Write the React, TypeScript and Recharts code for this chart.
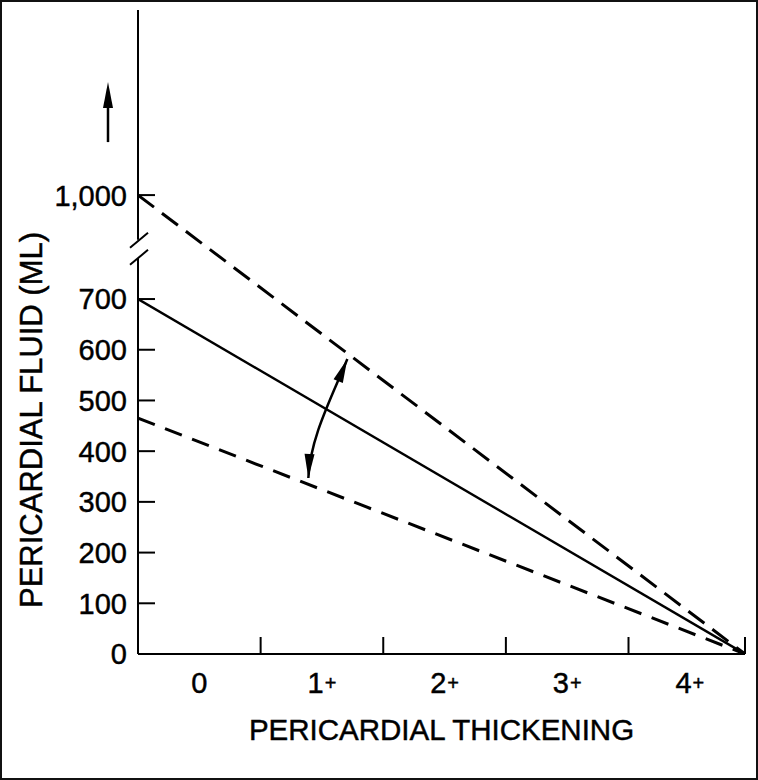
import React from 'react';
import { LineChart, Line, XAxis, YAxis, ReferenceLine, ReferenceDot } from 'recharts';

// ---- data ----
const xCategories = ['0', '1+', '2+', '3+', '4+'];
const xCategoryPositions = [0, 1, 2, 3, 4];
const xBoundaryTicks = [0.5, 1.5, 2.5, 3.5, 4.45];
const lineX = [-0.5, 4.45];
const upperDashed = [1000, 0];
const solidMid = [700, 0];
const lowerDashed = [465, 0];
const yTickValues = [0, 100, 200, 300, 400, 500, 600, 700, 1000];
const yTickLabels = ['0', '100', '200', '300', '400', '500', '600', '700', '1,000'];

// broken y axis: values above the break are shifted down
const BREAK_AT = 800;
const BREAK_SHIFT = 95;
const brk = (v: number) => (v <= BREAK_AT ? v : v - BREAK_SHIFT);
const GAP_LOW = 781;
const GAP_HIGH = 817;
const Y_TOP = 1270;

const chartData = lineX.map((x, i) => ({
  x,
  upper: brk(upperDashed[i]),
  mid: brk(solidMid[i]),
  lower: brk(lowerDashed[i]),
}));

const FONT = '"Liberation Sans", Arial, Helvetica, sans-serif';
const TXT = { fontFamily: FONT, fill: '#000', stroke: '#000', strokeWidth: 0.45 };

const XTick = (props: any) => {
  const { x, y, payload } = props;
  const v = payload.value;
  const idx = xCategoryPositions.indexOf(v);
  if (idx >= 0) {
    const lab = xCategories[idx];
    const digit = lab.replace('+', '');
    const plus = lab.includes('+');
    return (
      <text x={x} y={y + 39} textAnchor="middle" fontSize={29} {...TXT}>
        {digit}
        {plus && (
          <tspan fontSize={20} dx={1} dy={-3}>
            +
          </tspan>
        )}
      </text>
    );
  }
  return <line x1={x} x2={x} y1={y} y2={y - 17} stroke="#000" strokeWidth={2} />;
};

const brkTicks = yTickValues.map(brk);

const YTick = (props: any) => {
  const { x, y, payload } = props;
  const i = brkTicks.indexOf(payload.value);
  return (
    <g>
      <line x1={x} x2={x + 17} y1={y} y2={y} stroke="#000" strokeWidth={2} />
      <text x={x - 11} y={y} dy="0.36em" textAnchor="end" fontSize={29} {...TXT}>
        {yTickLabels[i]}
      </text>
    </g>
  );
};

const YTitle = (props: any) => {
  const vb = props.viewBox || { x: 0, y: 10 };
  const cx = vb.x + 42;
  const cy = vb.y + 410;
  return (
    <text x={cx} y={cy} transform={`rotate(-90 ${cx} ${cy})`} textAnchor="middle" fontSize={31} {...TXT}>
      PERICARDIAL FLUID (ML)
    </text>
  );
};

const XTitle = (props: any) => {
  const vb = props.viewBox || { x: 138, y: 654, width: 607 };
  return (
    <text x={vb.x + vb.width / 2} y={vb.y + 86} textAnchor="middle" fontSize={29.5} {...TXT}>
      PERICARDIAL THICKENING
    </text>
  );
};

const head = (tx: number, ty: number, dx: number, dy: number, len = 24, hw = 5) => {
  const l = Math.hypot(dx, dy);
  const ux = dx / l;
  const uy = dy / l;
  const bx = tx - len * ux;
  const by = ty - len * uy;
  const nx = -uy;
  const ny = ux;
  return `M${tx},${ty} L${bx + hw * nx},${by + hw * ny} L${bx - hw * nx},${by - hw * ny} Z`;
};

const BreakMarks = (props: any) => {
  const { cx, cy } = props;
  return (
    <g>
      <line x1={cx - 8} y1={cy - 1} x2={cx + 10} y2={cy - 16} stroke="#000" strokeWidth={2} />
      <line x1={cx - 8} y1={cy + 16} x2={cx + 10} y2={cy + 1} stroke="#000" strokeWidth={2} />
    </g>
  );
};

const UpArrow = (props: any) => {
  const { cx, cy } = props;
  const x = cx - 30;
  return (
    <g>
      <line x1={x} x2={x} y1={cy - 53} y2={cy - 100} stroke="#000" strokeWidth={2.5} />
      <path d={head(x, cy - 113, 0, -1, 26, 5)} fill="#000" />
    </g>
  );
};

const CurvedArrow = (props: any) => {
  const { cx, cy } = props;
  const p0 = [cx + 25.4, cy - 41.5];
  const p1 = [cx + 8.3, cy - 0.1];
  const p2 = [cx - 11.6, cy + 37.5];
  const p3 = [cx - 13.6, cy + 77.5];
  return (
    <g>
      <path
        d={`M${p0[0]},${p0[1]} C${p1[0]},${p1[1]} ${p2[0]},${p2[1]} ${p3[0]},${p3[1]}`}
        fill="none"
        stroke="#000"
        strokeWidth={2.5}
      />
      <path d={head(p0[0], p0[1], 0.38, -0.92)} fill="#000" />
      <path d={head(p3[0], p3[1], -0.05, 1)} fill="#000" />
    </g>
  );
};

export default function App() {
  return (
    <div style={{ position: 'absolute', left: 0, top: 0, width: 758, height: 780, background: '#fff' }}>
      <LineChart width={758} height={780} data={chartData} margin={{ top: 10, right: 13, bottom: 0, left: 0 }}>
        <XAxis
          type="number"
          dataKey="x"
          domain={[-0.5, 4.45]}
          allowDataOverflow
          ticks={[0, 0.5, 1, 1.5, 2, 2.5, 3, 3.5, 4, 4.45]}
          interval={0}
          tick={<XTick />}
          tickLine={false}
          tickSize={0}
          tickMargin={0}
          height={126}
          axisLine={{ stroke: '#000', strokeWidth: 2 }}
          label={{ content: <XTitle /> } as any}
        />
        <YAxis
          type="number"
          domain={[0, Y_TOP]}
          allowDataOverflow
          ticks={brkTicks}
          interval={0}
          tick={<YTick />}
          tickLine={false}
          tickSize={0}
          tickMargin={0}
          width={138}
          axisLine={false}
          label={{ content: <YTitle /> } as any}
        />
        <ReferenceLine
          segment={[{ x: -0.5, y: 0 }, { x: -0.5, y: GAP_LOW }]}
          stroke="#000"
          strokeWidth={2}
          ifOverflow="visible"
        />
        <ReferenceLine
          segment={[{ x: -0.5, y: GAP_HIGH }, { x: -0.5, y: Y_TOP }]}
          stroke="#000"
          strokeWidth={2}
          ifOverflow="visible"
        />
        <Line type="linear" dataKey="upper" stroke="#000" strokeWidth={3} strokeDasharray="20 10" dot={false} isAnimationActive={false} />
        <Line type="linear" dataKey="mid" stroke="#000" strokeWidth={2.4} dot={false} isAnimationActive={false} />
        <Line type="linear" dataKey="lower" stroke="#000" strokeWidth={3} strokeDasharray="18 11" dot={false} isAnimationActive={false} />
        <ReferenceDot x={-0.5} y={(GAP_LOW + GAP_HIGH) / 2} ifOverflow="visible" shape={(p: any) => <BreakMarks {...p} />} />
        <ReferenceDot x={-0.5} y={brk(1000)} ifOverflow="visible" shape={(p: any) => <UpArrow {...p} />} />
        <ReferenceDot x={1} y={500} ifOverflow="visible" shape={(p: any) => <CurvedArrow {...p} />} />
      </LineChart>
      <div
        style={{
          position: 'absolute',
          left: 0,
          top: 0,
          width: 758,
          height: 780,
          border: '2px solid #111',
          boxSizing: 'border-box',
          pointerEvents: 'none',
        }}
      />
    </div>
  );
}
